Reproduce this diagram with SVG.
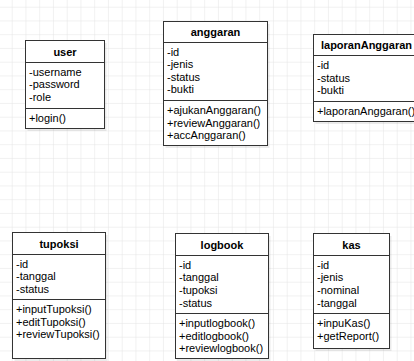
<svg xmlns="http://www.w3.org/2000/svg" width="414" height="361" viewBox="0 0 414 361">
  <style>
    .box { fill: #ffffff; stroke: #333333; stroke-width: 1; }
    .shadow { fill: #000000; opacity: 0.08; }
    .sep { stroke: #333333; stroke-width: 1; }
    .title { font-family: "Liberation Sans", Arial, sans-serif; font-size: 11px; font-weight: bold; fill: #000000; text-anchor: middle; }
    .item { font-family: "Liberation Sans", Arial, sans-serif; font-size: 11px; fill: #000000; }
  </style>
  <defs>
    <pattern id="grid" x="11.7" y="6.7" width="13.75" height="13.75" patternUnits="userSpaceOnUse">
      <path d="M 0 0 L 13.75 0 M 0 0 L 0 13.75" fill="none" stroke="#e4e4e4" stroke-width="1"/>
    </pattern>
  </defs>
  <rect x="0" y="0" width="414" height="361" fill="#ffffff"/>
  <rect x="0" y="0" width="414" height="361" fill="url(#grid)"/>

  <g id="connectors"></g>

  <g id="user">
    <rect class="shadow" x="27.5" y="43" width="79" height="88"/>
    <rect class="box" x="25.5" y="40.5" width="79" height="88"/>
    <line class="sep" x1="25.5" y1="62.5" x2="104.5" y2="62.5"/>
    <line class="sep" x1="25.5" y1="108.5" x2="104.5" y2="108.5"/>
    <text class="title" x="65" y="55.5">user</text>
    <text class="item" x="29" y="75.5">-username</text>
    <text class="item" x="29" y="88.1">-password</text>
    <text class="item" x="29" y="100.8">-role</text>
    <text class="item" x="29" y="121.5">+login()</text>
  </g>

  <g id="anggaran">
    <rect class="shadow" x="165.5" y="24" width="104" height="124"/>
    <rect class="box" x="163.5" y="21.5" width="104" height="124"/>
    <line class="sep" x1="163.5" y1="42.5" x2="267.5" y2="42.5"/>
    <line class="sep" x1="163.5" y1="100.5" x2="267.5" y2="100.5"/>
    <text class="title" x="215.5" y="35.5">anggaran</text>
    <text class="item" x="167" y="55.5">-id</text>
    <text class="item" x="167" y="68.1">-jenis</text>
    <text class="item" x="167" y="80.8">-status</text>
    <text class="item" x="167" y="93.4">-bukti</text>
    <text class="item" x="167" y="114">+ajukanAnggaran()</text>
    <text class="item" x="167" y="126.6">+reviewAnggaran()</text>
    <text class="item" x="167" y="139.3">+accAnggaran()</text>
  </g>

  <g id="laporanAnggaran">
    <rect class="shadow" x="315.5" y="37" width="112" height="87"/>
    <rect class="box" x="313.5" y="34.5" width="112" height="87"/>
    <line class="sep" x1="313.5" y1="55.5" x2="425.5" y2="55.5"/>
    <line class="sep" x1="313.5" y1="101.5" x2="425.5" y2="101.5"/>
    <text class="title" x="366.5" y="48.5">laporanAnggaran</text>
    <text class="item" x="317" y="69">-id</text>
    <text class="item" x="317" y="81.6">-status</text>
    <text class="item" x="317" y="94.3">-bukti</text>
    <text class="item" x="317" y="115">+laporanAnggaran()</text>
  </g>

  <g id="tupoksi">
    <rect class="shadow" x="14.5" y="235" width="93" height="126"/>
    <rect class="box" x="12.5" y="232.5" width="93" height="126"/>
    <line class="sep" x1="12.5" y1="254.5" x2="105.5" y2="254.5"/>
    <line class="sep" x1="12.5" y1="299.5" x2="105.5" y2="299.5"/>
    <text class="title" x="59" y="247.5">tupoksi</text>
    <text class="item" x="16" y="267.8">-id</text>
    <text class="item" x="16" y="280.4">-tanggal</text>
    <text class="item" x="16" y="293">-status</text>
    <text class="item" x="16" y="313">+inputTupoksi()</text>
    <text class="item" x="16" y="325.6">+editTupoksi()</text>
    <text class="item" x="16" y="338.3">+reviewTupoksi()</text>
  </g>

  <g id="logbook">
    <rect class="shadow" x="177.5" y="236" width="93" height="126"/>
    <rect class="box" x="175.5" y="233.5" width="93" height="125"/>
    <line class="sep" x1="175.5" y1="255.5" x2="268.5" y2="255.5"/>
    <line class="sep" x1="175.5" y1="313.5" x2="268.5" y2="313.5"/>
    <text class="title" x="222" y="248.5">logbook</text>
    <text class="item" x="179" y="268.8">-id</text>
    <text class="item" x="179" y="281.4">-tanggal</text>
    <text class="item" x="179" y="294">-tupoksi</text>
    <text class="item" x="179" y="306.6">-status</text>
    <text class="item" x="179" y="327">+inputlogbook()</text>
    <text class="item" x="179" y="339.6">+editlogbook()</text>
    <text class="item" x="179" y="352.3">+reviewlogbook()</text>
  </g>

  <g id="kas">
    <rect class="shadow" x="315.5" y="236" width="76" height="115"/>
    <rect class="box" x="313.5" y="233.5" width="76" height="115"/>
    <line class="sep" x1="313.5" y1="255.5" x2="389.5" y2="255.5"/>
    <line class="sep" x1="313.5" y1="313.5" x2="389.5" y2="313.5"/>
    <text class="title" x="351.5" y="248.5">kas</text>
    <text class="item" x="317" y="268.8">-id</text>
    <text class="item" x="317" y="281.4">-jenis</text>
    <text class="item" x="317" y="294">-nominal</text>
    <text class="item" x="317" y="306.6">-tanggal</text>
    <text class="item" x="317" y="327">+inpuKas()</text>
    <text class="item" x="317" y="339.6">+getReport()</text>
  </g>
</svg>
